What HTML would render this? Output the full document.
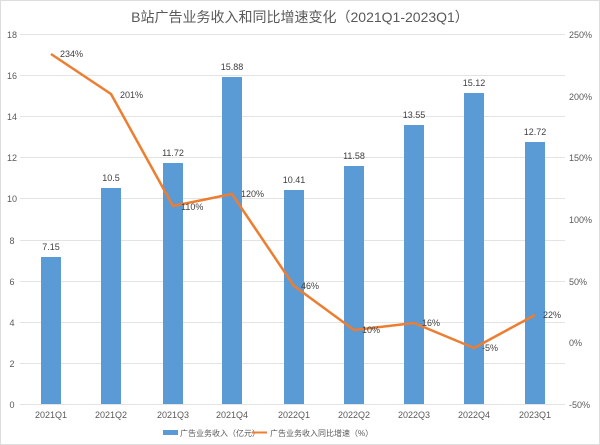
<!DOCTYPE html><html><head><meta charset="utf-8"><style>body{margin:0;background:#fff}svg{display:block}text{font-family:"Liberation Sans","Noto Sans CJK SC",sans-serif}</style></head><body>
<svg width="600" height="445" xmlns="http://www.w3.org/2000/svg">
<rect x="0.5" y="0.5" width="599" height="444" fill="#fff" stroke="#ddd"/>
<text x="300" y="22" font-size="14" fill="#595959" text-anchor="middle">B站广告业务收入和同比增速变化（2021Q1-2023Q1）</text>
<g stroke="#e3e3e3" stroke-width="1">
<line x1="20" x2="565" y1="34.5" y2="34.5"/><line x1="20" x2="565" y1="75.5" y2="75.5"/><line x1="20" x2="565" y1="116.5" y2="116.5"/><line x1="20" x2="565" y1="157.5" y2="157.5"/><line x1="20" x2="565" y1="198.5" y2="198.5"/><line x1="20" x2="565" y1="240.5" y2="240.5"/><line x1="20" x2="565" y1="281.5" y2="281.5"/><line x1="20" x2="565" y1="322.5" y2="322.5"/><line x1="20" x2="565" y1="363.5" y2="363.5"/><line x1="20" x2="565" y1="404.5" y2="404.5"/>
</g>
<g font-size="9" fill="#595959" text-anchor="middle">
<text x="12" y="38">18</text><text x="12" y="79">16</text><text x="12" y="120">14</text><text x="12" y="161">12</text><text x="12" y="202">10</text><text x="12" y="244">8</text><text x="12" y="285">6</text><text x="12" y="326">4</text><text x="12" y="367">2</text><text x="12" y="408">0</text>
</g>
<g font-size="9" fill="#595959" text-anchor="start">
<text x="569" y="38">250%</text><text x="569" y="100">200%</text><text x="569" y="161">150%</text><text x="569" y="223">100%</text><text x="569" y="285">50%</text><text x="569" y="346">0%</text><text x="569" y="408">-50%</text>
</g>
<g fill="#5b9bd5">
<rect x="41" y="257" width="20" height="147"/>
<rect x="101" y="188" width="20" height="216"/>
<rect x="163" y="163" width="20" height="241"/>
<rect x="222" y="77" width="20" height="327"/>
<rect x="284" y="190" width="20" height="214"/>
<rect x="344" y="166" width="20" height="238"/>
<rect x="404" y="125" width="20" height="279"/>
<rect x="464" y="93" width="20" height="311"/>
<rect x="525" y="142" width="20" height="262"/>
</g>
<g font-size="9" fill="#404040" text-anchor="middle">
<text x="51" y="250">7.15</text><text x="111" y="181">10.5</text><text x="173" y="156">11.72</text><text x="232" y="70">15.88</text><text x="294" y="183">10.41</text><text x="354" y="159">11.58</text><text x="414" y="118">13.55</text><text x="474" y="86">15.12</text><text x="535" y="135">12.72</text>
</g>
<polyline fill="none" stroke="#ed7d31" stroke-width="2.5" stroke-linejoin="round" points="51,54 111,94 173,206 232,194 294,286 354,330 414,323 474,348 535,315"/>
<g font-size="9" fill="#404040">
<text x="60" y="57">234%</text><text x="120" y="98">201%</text><text x="181" y="210">110%</text><text x="241" y="197">120%</text><text x="301" y="289">46%</text><text x="362" y="333">10%</text><text x="422" y="326">16%</text><text x="482" y="351">-5%</text><text x="543" y="318">22%</text>
</g>
<g font-size="9" fill="#595959" text-anchor="middle">
<text x="51" y="418">2021Q1</text><text x="111" y="418">2021Q2</text><text x="173" y="418">2021Q3</text><text x="232" y="418">2021Q4</text><text x="294" y="418">2022Q1</text><text x="354" y="418">2022Q2</text><text x="414" y="418">2022Q3</text><text x="474" y="418">2022Q4</text><text x="535" y="418">2023Q1</text>
</g>
<rect x="163" y="430" width="15" height="5" fill="#5b9bd5"/>
<text x="180" y="436" font-size="8" fill="#595959">广告业务收入（亿元）</text>
<line x1="252" x2="267" y1="432.5" y2="432.5" stroke="#ed7d31" stroke-width="2"/>
<text x="270" y="436" font-size="8" fill="#595959">广告业务收入同比增速（%）</text>
</svg></body></html>
